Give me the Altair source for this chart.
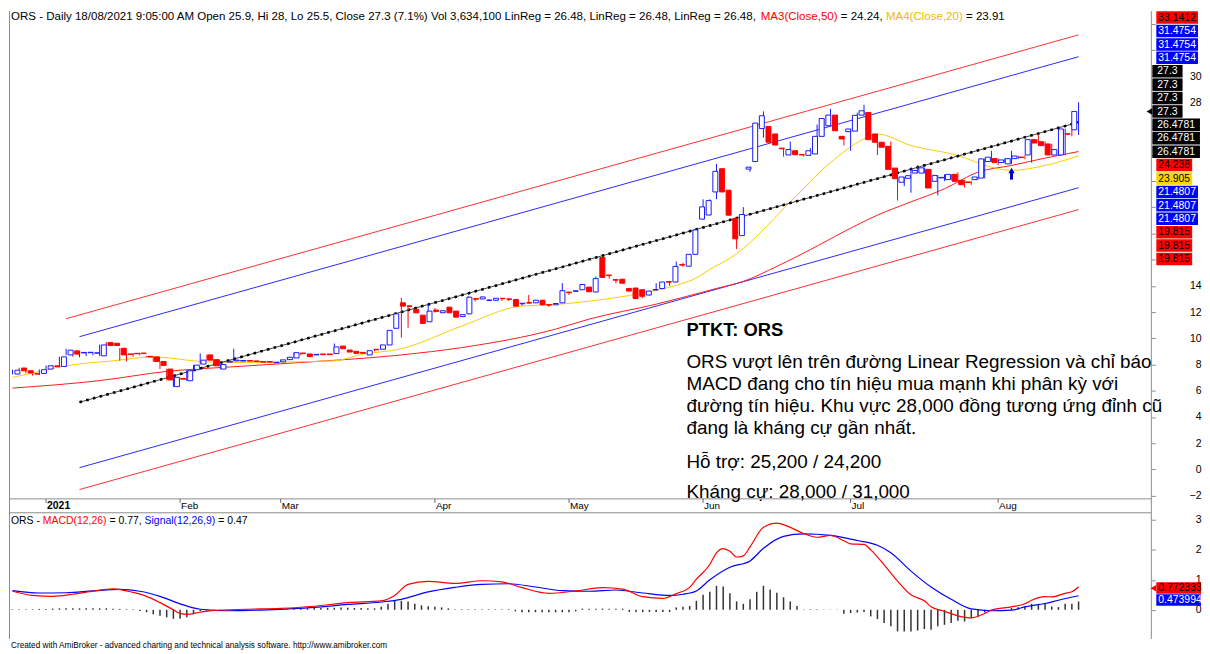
import altair as alt
import pandas as pd

# ------------------------------------------------------------------ data
open_ = [
    7.27, 7.73, 7.52, 7.30, 7.32, 7.65, 7.90, 7.85, 8.73, 9.04,
    8.88, 8.90, 8.86, 8.66, 9.67, 9.62, 9.24, 8.80, 8.85, 8.87,
    8.62, 8.58, 8.23, 7.65, 6.31, 6.93, 6.76, 7.60, 8.03, 8.73,
    8.37, 7.65, 8.18, 8.27, 8.26, 8.30, 8.27, 8.22, 8.22, 8.13,
    8.20, 8.37, 8.50, 8.87, 8.80, 8.73, 8.80, 8.80, 8.83, 9.40,
    9.10, 9.00, 8.92, 8.73, 9.16, 9.16, 9.49, 10.76, 12.70, 12.47,
    12.20, 11.76, 11.26, 12.15, 11.95, 12.37, 12.07, 11.65, 11.86, 13.02,
    13.00, 12.88, 12.90, 13.05, 13.00, 12.95, 12.63, 12.72, 12.70, 12.90,
    12.57, 12.55, 12.70, 13.52, 13.58, 13.70, 13.90, 13.53, 16.16, 14.82,
    14.47, 14.50, 13.80, 13.83, 13.70, 13.30, 13.68, 13.79, 14.32, 14.29,
    15.62, 15.50, 16.40, 19.09, 19.40, 21.16, 22.93, 21.29, 19.14, 17.83,
    22.90, 23.48, 26.00, 26.16, 25.58, 24.50, 23.98, 24.30, 24.02, 23.95,
    24.06, 25.40, 26.21, 27.02, 25.40, 25.76, 25.80, 27.02, 27.22, 25.58,
    24.95, 24.64, 22.98, 21.90, 22.20, 22.60, 22.60, 22.88, 21.97, 22.23,
    22.10, 22.50, 22.05, 21.92, 22.10, 22.22, 23.48, 23.70, 23.40, 23.30,
    23.70, 23.82, 23.98, 25.15, 24.99, 24.82, 23.98, 23.98, 25.60, 25.90,
]
high = [
    7.60, 7.75, 7.55, 7.32, 7.62, 7.92, 7.92, 8.60, 9.20, 9.06,
    8.95, 8.95, 8.90, 9.52, 9.70, 9.65, 9.26, 8.82, 8.87, 8.90,
    8.65, 8.60, 8.25, 7.68, 7.05, 7.00, 7.55, 7.97, 8.85, 8.75,
    8.40, 8.02, 8.26, 9.20, 8.32, 8.32, 8.29, 8.24, 8.24, 8.19,
    8.37, 8.57, 8.92, 8.90, 8.82, 8.79, 8.82, 8.82, 9.60, 9.42,
    9.12, 9.02, 8.94, 9.07, 9.18, 9.51, 10.62, 11.88, 13.08, 12.50,
    12.22, 11.78, 12.60, 12.30, 12.12, 12.39, 12.09, 11.82, 13.20, 13.04,
    13.17, 12.94, 13.07, 13.07, 13.02, 12.97, 12.69, 13.30, 12.92, 12.92,
    12.59, 12.67, 14.20, 13.54, 13.64, 14.12, 13.92, 14.70, 16.18, 14.84,
    14.49, 14.52, 13.82, 13.85, 13.72, 13.62, 14.20, 14.31, 14.34, 15.85,
    15.75, 16.42, 18.30, 20.60, 20.60, 23.30, 22.95, 21.31, 19.16, 20.00,
    23.07, 26.43, 27.30, 26.18, 25.60, 24.52, 25.00, 24.32, 24.05, 24.50,
    26.30, 26.78, 27.50, 27.04, 25.42, 25.98, 27.20, 27.80, 27.24, 25.60,
    24.97, 25.00, 23.00, 22.32, 23.00, 23.20, 23.02, 22.90, 22.44, 22.50,
    22.52, 22.65, 22.07, 22.00, 22.32, 23.70, 24.30, 23.72, 23.70, 24.30,
    23.92, 23.95, 25.17, 25.50, 25.01, 24.84, 24.45, 25.98, 25.90, 28.00,
]
low = [
    7.25, 7.50, 7.33, 7.15, 7.20, 7.63, 7.80, 7.83, 8.70, 8.60,
    8.55, 8.65, 8.70, 8.64, 9.43, 9.43, 8.28, 8.23, 8.60, 8.70,
    8.55, 8.20, 7.65, 6.80, 6.28, 6.85, 6.74, 7.58, 8.00, 8.30,
    7.88, 7.63, 8.15, 8.25, 8.24, 8.24, 8.21, 8.16, 8.16, 8.11,
    8.18, 8.35, 8.48, 8.70, 8.58, 8.71, 8.73, 8.73, 8.81, 9.18,
    8.93, 8.83, 8.84, 8.71, 9.00, 9.14, 9.47, 10.74, 10.05, 10.80,
    11.92, 11.11, 11.24, 11.95, 11.93, 11.92, 11.59, 11.63, 11.84, 12.80,
    12.98, 12.86, 12.88, 12.85, 12.85, 12.43, 12.50, 12.66, 12.68, 12.53,
    12.40, 12.53, 12.68, 13.30, 13.56, 13.68, 13.53, 13.51, 14.62, 14.55,
    14.20, 14.18, 13.58, 13.01, 13.05, 13.28, 13.66, 13.77, 14.00, 14.27,
    15.45, 15.48, 16.38, 19.07, 19.38, 20.60, 21.14, 19.37, 16.80, 17.81,
    22.70, 23.46, 25.30, 24.93, 24.72, 23.85, 23.96, 23.98, 23.85, 23.93,
    24.04, 25.38, 26.19, 25.81, 24.70, 24.30, 25.78, 27.00, 25.13, 23.98,
    24.55, 22.86, 20.50, 21.60, 21.10, 22.58, 22.58, 21.44, 20.90, 22.00,
    22.08, 21.95, 21.50, 21.70, 22.08, 22.20, 23.46, 23.20, 23.38, 23.28,
    23.68, 23.65, 23.40, 24.87, 24.67, 23.96, 23.96, 23.96, 25.40, 25.50,
]
close = [
    7.56, 7.52, 7.35, 7.27, 7.60, 7.90, 7.83, 8.58, 9.09, 8.79,
    8.92, 8.93, 8.89, 9.49, 9.45, 9.45, 8.73, 8.77, 8.82, 8.84,
    8.57, 8.23, 7.93, 6.82, 7.02, 6.88, 7.52, 7.95, 8.33, 8.33,
    7.90, 8.00, 8.24, 8.33, 8.30, 8.26, 8.23, 8.18, 8.18, 8.17,
    8.35, 8.55, 8.90, 8.83, 8.60, 8.77, 8.75, 8.75, 9.34, 9.20,
    8.95, 8.85, 8.86, 9.05, 9.12, 9.49, 10.60, 11.86, 12.45, 12.43,
    11.94, 11.13, 12.07, 12.05, 12.10, 11.94, 11.61, 11.80, 13.13, 12.98,
    13.15, 12.92, 13.05, 13.02, 12.97, 12.45, 12.67, 12.68, 12.90, 12.55,
    12.53, 12.65, 13.63, 13.48, 13.62, 14.10, 13.55, 14.55, 14.64, 14.78,
    14.43, 14.20, 13.60, 13.03, 13.20, 13.60, 13.72, 14.29, 14.28, 15.48,
    15.58, 16.40, 18.26, 20.02, 20.50, 22.73, 21.16, 19.39, 17.58, 19.44,
    23.05, 26.41, 26.97, 24.95, 24.74, 24.45, 24.39, 24.00, 23.98, 24.30,
    25.40, 26.76, 27.02, 25.83, 25.20, 25.96, 27.00, 27.35, 25.15, 24.95,
    24.57, 22.88, 22.17, 22.30, 22.40, 22.80, 23.00, 21.46, 22.42, 22.27,
    22.50, 21.97, 21.71, 21.88, 22.30, 23.68, 23.81, 23.40, 23.60, 23.70,
    23.90, 23.78, 25.15, 24.89, 24.69, 23.98, 24.39, 25.96, 25.56, 27.30,
]

ma50_idx = [0, 13, 23, 33, 43, 58, 67, 81, 86, 96, 105, 109, 114, 119, 124,
            129, 134, 139, 144, 149, 154, 159]
ma50_val = [6.20, 6.77, 7.47, 7.83, 8.15, 8.73, 9.29, 10.70, 11.46, 12.60, 13.80,
            14.34, 15.48, 16.76, 18.13, 19.39, 20.40, 21.40, 22.67, 23.18, 23.74, 24.24]

ma20_idx = [0, 3, 8, 15, 21, 28, 33, 48, 52, 58, 67, 76, 81, 86, 94, 99, 102, 104,
            107, 109, 116, 122, 127, 129, 134, 141, 146, 149, 154, 159]
ma20_val = [7.02, 7.35, 7.90, 8.28, 8.58, 8.23, 8.15, 8.28, 8.76, 9.20, 10.93, 12.46,
            12.57, 12.83, 13.45, 14.04, 14.60, 15.25, 16.10, 16.86, 20.40, 23.40,
            25.20, 25.58, 24.70, 23.94, 23.05, 22.80, 23.18, 23.91]

linreg_idx = [10, 159]
linreg_val = [5.12, 26.4781]
upper_blue = [10.12, 31.4754]
lower_blue = [0.13, 21.4807]
red_idx = [8, 159]
upper_red = [11.49, 33.1412]
lower_red = [-1.54, 19.815]

macd_idx = [0, 3, 6, 9, 12, 15, 18, 20, 22, 24, 25, 26, 28, 30, 35, 40, 45, 50, 55,
            57, 59, 62, 66, 70, 73, 76, 80, 84, 88, 91, 94, 97, 99, 101, 102, 104,
            105, 106, 107, 108, 109, 110, 112, 114, 116, 118, 120, 122, 124, 125,
            127, 128, 130, 132, 134, 136, 137, 139, 141, 143, 145, 146, 149, 151,
            152, 154, 155, 157, 158, 159]
macd_val = [0.62, 0.48, 0.45, 0.52, 0.62, 0.70, 0.58, 0.45, 0.24, 0.00, -0.12, -0.15,
            -0.08, -0.02, 0.02, 0.05, 0.12, 0.24, 0.30, 0.48, 0.85, 0.95, 0.88, 0.97,
            0.93, 0.74, 0.55, 0.63, 0.74, 0.69, 0.44, 0.38, 0.54, 0.75, 1.02, 1.51,
            1.90, 2.04, 1.95, 1.76, 1.80, 2.10, 2.75, 2.89, 2.75, 2.54, 2.42, 2.48,
            2.30, 2.20, 2.18, 2.00, 1.50, 0.96, 0.50, 0.30, 0.10, -0.05, -0.20,
            -0.27, -0.12, -0.01, 0.10, 0.20, 0.32, 0.44, 0.43, 0.55, 0.60, 0.77]

signal_idx = [0, 4, 8, 12, 16, 19, 22, 25, 28, 32, 38, 45, 50, 55, 58, 62, 66, 70, 74,
              78, 82, 86, 90, 94, 98, 100, 102, 104, 107, 110, 112, 115, 118, 122,
              126, 129, 131, 134, 137, 140, 143, 146, 149, 151, 154, 156, 159]
signal_val = [0.64, 0.56, 0.57, 0.63, 0.68, 0.62, 0.45, 0.20, 0.02, -0.03, 0.00, 0.08,
              0.18, 0.26, 0.35, 0.60, 0.75, 0.85, 0.87, 0.76, 0.64, 0.62, 0.66, 0.56,
              0.48, 0.52, 0.63, 1.00, 1.42, 1.63, 2.05, 2.45, 2.53, 2.48, 2.31, 2.15,
              1.90, 1.29, 0.76, 0.35, 0.03, -0.03, -0.01, 0.10, 0.21, 0.32, 0.47]

histogram = [
    0.02, 0.02, 0.02, 0.02, 0.03, 0.03, 0.04, 0.05, 0.05, 0.05,
    0.05, 0.05, 0.05, 0.05, 0.05, 0.04, 0.03, 0.02, 0.02, -0.04,
    -0.08, -0.15, -0.20, -0.25, -0.30, -0.30, -0.25, -0.15, -0.05, -0.02,
    0.01, 0.01, 0.01, 0.01, 0.01, 0.01, 0.01, 0.01, 0.01, 0.01,
    0.01, 0.02, 0.04, 0.05, 0.05, 0.06, 0.06, 0.07, 0.07, 0.08,
    0.07, 0.06, 0.06, 0.05, 0.05, 0.10, 0.20, 0.30, 0.30, 0.28,
    0.20, 0.15, 0.12, 0.10, 0.08, 0.05, 0.02, 0.02, 0.02, 0.02,
    0.02, 0.02, 0.02, 0.02, 0.02, -0.05, -0.08, -0.08, -0.08, -0.08,
    -0.08, -0.08, -0.08, -0.08, -0.05, 0.04, 0.04, 0.04, 0.04, 0.04,
    0.04, 0.04, -0.07, -0.07, -0.07, -0.07, -0.07, -0.07, -0.07, 0.08,
    0.10, 0.13, 0.30, 0.50, 0.60, 0.80, 0.78, 0.55, 0.28, 0.20,
    0.35, 0.60, 0.80, 0.68, 0.57, 0.42, 0.28, 0.13, 0.01, 0.02,
    0.02, 0.01, 0.01, 0.01, -0.13, -0.11, -0.09, -0.07, -0.22, -0.31,
    -0.44, -0.55, -0.72, -0.72, -0.72, -0.69, -0.64, -0.66, -0.55, -0.50,
    -0.44, -0.36, -0.39, -0.28, -0.22, -0.09, -0.02, 0.01, 0.01, 0.06,
    0.09, 0.11, 0.20, 0.20, 0.22, 0.11, 0.09, 0.20, 0.20, 0.28,
]

month_labels = ["2021", "Feb", "Mar", "Apr", "May", "Jun", "Jul", "Aug"]
month_idx = [5, 25, 40, 63, 83, 103, 125, 147]

price_ticks = list(range(-2, 35, 2))
price_tick_labels_hidden = [16, 18, 20, 22, 24, 26, 32, 34]   # covered by value boxes
macd_ticks = [0, 1, 2, 3]

arrow_idx = [149]
arrow_tail = [22.10]
arrow_head = [22.80]

price_label_text = ["33.1412", "31.4754", "31.4754", "31.4754", "27.3", "27.3", "27.3",
                    "27.3", "26.4781", "26.4781", "26.4781", "24.238", "23.905",
                    "21.4807", "21.4807", "21.4807", "19.815", "19.815", "19.815"]
price_label_bg = ["#ff0000", "#0000ff", "#0000ff", "#0000ff", "#000000", "#000000",
                  "#000000", "#000000", "#000000", "#000000", "#000000", "#ff0000",
                  "#ffd400", "#0000ff", "#0000ff", "#0000ff", "#ff0000", "#ff0000",
                  "#ff0000"]
price_label_fg = ["#000000", "#ffffff", "#ffffff", "#ffffff", "#ffffff", "#ffffff",
                  "#ffffff", "#ffffff", "#ffffff", "#ffffff", "#ffffff", "#000000",
                  "#000000", "#ffffff", "#ffffff", "#ffffff", "#000000", "#000000",
                  "#000000"]
macd_label_text = ["0.772333", "0.473994"]
macd_label_bg = ["#ff0000", "#0000ff"]
macd_label_fg = ["#000000", "#ffffff"]

title_segments = [
    ("ORS - Daily 18/08/2021 9:05:00 AM Open 25.9, Hi 28, Lo 25.5, Close 27.3 (7.1%) "
     "Vol 3,634,100 LinReg = 26.48, LinReg = 26.48, LinReg = 26.48, ", "#000000"),
    ("MA3(Close,50)", "#ff0000"),
    (" = 24.24, ", "#000000"),
    ("MA4(Close,20)", "#f2b800"),
    (" = 23.91", "#000000"),
]
macd_title_segments = [
    ("ORS - ", "#000000"),
    ("MACD(12,26)", "#ff0000"),
    (" = 0.77, ", "#000000"),
    ("Signal(12,26,9)", "#0000ff"),
    (" = 0.47", "#000000"),
]
note_title = "PTKT: ORS"
note_lines = [
    "ORS vượt lên trên đường Linear Regression và chỉ báo",
    "MACD đang cho tín hiệu mua mạnh khi phân kỳ với",
    "đường tín hiệu. Khu vực 28,000 đồng tương ứng đỉnh cũ",
    "đang là kháng cự gần nhất.",
]
note_support = "Hỗ trợ: 25,200 / 24,200"
note_resist = "Kháng cự: 28,000 / 31,000"
footer = ("Created with AmiBroker - advanced charting and technical analysis software. "
          "http://www.amibroker.com")

# ------------------------------------------------------------------ layout / style
FONT = "Liberation Sans"
W, H = 1150, 631
PRICE_BOTTOM, STRIP_BOTTOM = 491, 505
FRAME = "#8c8c8c"
RED = "#ff0000"
CANDLE_BLUE = "#1a1aff"
LINE_BLUE = "#2a2aff"

X = alt.Scale(domain=[-0.5185, 169.852], range=[0, W], zero=False, nice=False)
PY = alt.Scale(domain=[-2.25, 34.95], range=[PRICE_BOTTOM, 0], zero=False, nice=False)
MY = alt.Scale(domain=[-0.937, 3.235], range=[H, STRIP_BOTTOM], zero=False, nice=False)
PIX = alt.Scale(domain=[0, 700], range=[0, 700], zero=False, nice=False)
PIXX = alt.Scale(domain=[0, 1300], range=[0, 1300], zero=False, nice=False)

ONE = pd.DataFrame({"k": [0]})

AW = {' ': 278, '!': 278, '%': 889, '(': 333, ')': 333, ',': 278, '-': 333, '.': 278,
      '/': 278, ':': 278, '=': 584,
      'A': 667, 'B': 667, 'C': 722, 'D': 722, 'E': 667, 'F': 611, 'G': 778, 'H': 722,
      'I': 278, 'J': 500, 'K': 667, 'L': 556, 'M': 833, 'N': 722, 'O': 778, 'P': 667,
      'Q': 778, 'R': 722, 'S': 667, 'T': 611, 'U': 722, 'V': 667, 'W': 944, 'X': 667,
      'Y': 667, 'Z': 611, 'a': 556, 'b': 556, 'c': 500, 'd': 556, 'e': 556, 'f': 278,
      'g': 556, 'h': 556, 'i': 222, 'j': 222, 'k': 500, 'l': 222, 'm': 833, 'n': 556,
      'o': 556, 'p': 556, 'q': 556, 'r': 333, 's': 500, 't': 278, 'u': 556, 'v': 500,
      'w': 722, 'x': 500, 'y': 500, 'z': 500}


def tw(s, size):
    return sum(AW.get(ch, 556) for ch in s) * size / 1000.0


def text_at(txt, x, y, size, color="#000000", weight="normal", align="left"):
    return alt.Chart(ONE).mark_text(
        text=txt, align=align, baseline="middle", font=FONT, fontSize=size,
        fontWeight=weight, color=color,
    ).encode(x=alt.value(x), y=alt.value(y))


def segments(segs, x0, y, size):
    out = []
    x = x0
    for txt, col in segs:
        lead = len(txt) - len(txt.lstrip())
        out.append(text_at(txt.strip(), x + tw(txt[:lead], size), y, size, col))
        x += tw(txt, size)
    return out


def series_line(idx, vals, color, width=1.0, dash=None, scale=PY, axis=None,
                interp="linear"):
    df = pd.DataFrame({"i": idx, "v": vals})
    kw = dict(color=color, strokeWidth=width, interpolate=interp)
    if dash:
        kw["strokeDash"] = dash
    return alt.Chart(df).mark_line(**kw).encode(
        x=alt.X("i:Q", scale=X, axis=None),
        y=alt.Y("v:Q", scale=scale, axis=axis),
    )


def hrule(y, x1=0, x2=W):
    return alt.Chart(ONE).mark_rule(color=FRAME, strokeWidth=1).encode(
        x=alt.value(x1), x2=alt.value(x2), y=alt.value(y))


def vrule(x, y1, y2):
    return alt.Chart(ONE).mark_rule(color=FRAME, strokeWidth=1).encode(
        x=alt.value(x), y=alt.value(y1), y2=alt.value(y2))


layers = []

# frame
layers += [vrule(0.5, 0, 632), vrule(W, 0, 632), hrule(PRICE_BOTTOM), hrule(STRIP_BOTTOM)]

# regression channel and moving averages
layers.append(series_line(red_idx, upper_red, "#ff3030"))
layers.append(series_line(linreg_idx, lower_red, "#ff3030"))
layers.append(series_line(linreg_idx, upper_blue, LINE_BLUE))
layers.append(series_line(linreg_idx, lower_blue, LINE_BLUE))
layers.append(series_line(ma50_idx, ma50_val, "#ff1a1a", interp="monotone"))
layers.append(series_line(ma20_idx, ma20_val, "#ffcc00", interp="monotone"))
layers.append(series_line(linreg_idx, linreg_val, "#444444", width=1))
layers.append(series_line(linreg_idx, linreg_val, "#000000", width=2.6, dash=[2.6, 4.4]))

# candles
cd = pd.DataFrame({"i": list(range(len(close))), "o": open_, "h": high, "l": low, "c": close})
cd["dir"] = ["up" if c >= o else "down" for o, c in zip(open_, close)]

hidden = " || ".join(f"datum.value == {v}" for v in price_tick_labels_hidden)
price_axis = alt.Axis(orient="right", values=price_ticks, title=None, domain=False,
                      tickSize=4, tickColor=FRAME, labelPadding=46, labelAlign="right",
                      labelFontSize=10.5, labelColor="#000000", labelFont=FONT,
                      grid=False, labelOverlap=False, labelFlush=False,
                      labelExpr=f"({hidden}) ? '' : datum.label")
macd_axis = alt.Axis(orient="right", values=macd_ticks, title=None, domain=False,
                     tickSize=4, tickColor=FRAME, labelPadding=46, labelAlign="right",
                     labelFontSize=10.5, labelColor="#000000", labelFont=FONT,
                     grid=False, labelOverlap=False, labelFlush=False)

layers.append(alt.Chart(cd).mark_rule(strokeWidth=1).encode(
    x=alt.X("i:Q", scale=X, axis=None),
    y=alt.Y("l:Q", scale=PY, axis=price_axis),
    y2="h:Q",
    color=alt.Color("dir:N", scale=alt.Scale(domain=["up", "down"],
                                             range=[CANDLE_BLUE, RED]), legend=None),
))
layers.append(alt.Chart(cd).mark_bar(size=5, strokeWidth=1).encode(
    x=alt.X("i:Q", scale=X, axis=None),
    y=alt.Y("o:Q", scale=PY, axis=None),
    y2="c:Q",
    fill=alt.Fill("dir:N", scale=alt.Scale(domain=["up", "down"],
                                           range=["#ffffff", RED]), legend=None),
    stroke=alt.Stroke("dir:N", scale=alt.Scale(domain=["up", "down"],
                                               range=[CANDLE_BLUE, RED]), legend=None),
))

# buy arrow
adf = pd.DataFrame({"i": arrow_idx, "t": arrow_tail, "hd": arrow_head})
layers.append(alt.Chart(adf).mark_rule(strokeWidth=3, color="#0000cc").encode(
    x=alt.X("i:Q", scale=X, axis=None),
    y=alt.Y("t:Q", scale=PY, axis=None), y2="hd:Q"))
layers.append(alt.Chart(adf).mark_point(shape="triangle-up", filled=True, size=40,
                                        color="#0000cc", opacity=1).encode(
    x=alt.X("i:Q", scale=X, axis=None),
    y=alt.Y("hd:Q", scale=PY, axis=None)))

# month axis in the strip
mdf = pd.DataFrame({"i": month_idx, "label": month_labels})
layers.append(alt.Chart(mdf).mark_rule(color="#666666").encode(
    x=alt.X("i:Q", scale=X, axis=None), y=alt.value(PRICE_BOTTOM),
    y2=alt.value(PRICE_BOTTOM + 4)))
layers.append(alt.Chart(mdf).transform_filter("datum.label == '2021'").mark_text(
    align="left", baseline="middle", dx=1, font=FONT, fontSize=10.5, fontWeight="bold",
    color="#000000").encode(x=alt.X("i:Q", scale=X, axis=None), y=alt.value(498.5),
                            text="label:N"))
layers.append(alt.Chart(mdf).transform_filter("datum.label != '2021'").mark_text(
    align="left", baseline="middle", dx=1, font=FONT, fontSize=10,
    color="#000000").encode(x=alt.X("i:Q", scale=X, axis=None), y=alt.value(498.5),
                            text="label:N"))

# MACD panel
hdf = pd.DataFrame({"i": list(range(len(histogram))), "hv": histogram})
layers.append(alt.Chart(hdf).mark_rule(strokeWidth=1.5, color="#333333").encode(
    x=alt.X("i:Q", scale=X, axis=None),
    y=alt.Y("hv:Q", scale=MY, axis=None), y2=alt.datum(0)))
layers.append(series_line(signal_idx, signal_val, "#0000ff", width=1.2, scale=MY,
                          axis=macd_axis, interp="monotone"))
layers.append(series_line(macd_idx, macd_val, "#ff0000", width=1.2, scale=MY,
                          interp="monotone"))

# value boxes on the right
rows = []
for k, (t, bg, fg) in enumerate(zip(price_label_text, price_label_bg, price_label_fg)):
    top = 0.2 + 13.5 * k
    left = 1151 if bg == "#000000" else 1155
    pad = 5 if bg == "#000000" else 2
    right = min(left + tw(t, 10.5) + 2 * pad, 1200)
    rows.append(dict(t=t, bg=bg, fg=fg, x0=left, x1=right, tx=left + pad,
                     y0=top, y1=top + 12.6, cy=top + 6.5))
for k, (t, bg, fg) in enumerate(zip(macd_label_text, macd_label_bg, macd_label_fg)):
    top = 575 + 12 * k
    rows.append(dict(t=t, bg=bg, fg=fg, x0=1155, x1=1200, tx=1157,
                     y0=top, y1=top + 11.6, cy=top + 6))
bdf = pd.DataFrame(rows)
layers.append(alt.Chart(bdf).mark_rect().encode(
    x=alt.X("x0:Q", scale=PIXX, axis=None), x2="x1:Q",
    y=alt.Y("y0:Q", scale=PIX, axis=None), y2="y1:Q",
    color=alt.Color("bg:N", scale=None)))
layers.append(alt.Chart(bdf).mark_text(align="left", baseline="middle", font=FONT,
                                       fontSize=10.5, limit=44,
                                       ellipsis="\u200b").encode(
    x=alt.X("tx:Q", scale=PIXX, axis=None),
    y=alt.Y("cy:Q", scale=PIX, axis=None),
    text="t:N",
    color=alt.Color("fg:N", scale=None)))
# last-value pointers
layers.append(alt.Chart(ONE).mark_point(shape="triangle-left", filled=True, size=45,
                                        color="#000000", opacity=1).encode(
    x=alt.value(1148), y=alt.value(0.2 + 13.5 * 7 + 6.3)))
layers.append(alt.Chart(ONE).mark_point(shape="triangle-left", filled=True, size=45,
                                        color="#ff0000", opacity=1).encode(
    x=alt.value(1152), y=alt.value(581)))

# titles and notes
layers += segments(title_segments, 2, 5.8, 11.6)
layers += segments(macd_title_segments, 2, 513, 10.5)
layers.append(text_at(note_title, 682, 321, 18.5, weight="bold"))
for n, line in enumerate(note_lines):
    layers.append(text_at(line, 682, 353 + 22.4 * n, 19))
layers.append(text_at(note_support, 682, 454, 19))
layers.append(text_at(note_resist, 682, 484, 19))
layers.append(text_at(footer, 2, 639, 8.3))

chart = alt.layer(*layers).resolve_scale(
    x="independent", y="independent", color="independent",
    fill="independent", stroke="independent",
).properties(width=W, height=H, padding=0, background="white").configure(
    font=FONT, view=alt.ViewConfig(stroke=None))

chart.save("out.html", embed_options={"renderer": "svg", "actions": False})
